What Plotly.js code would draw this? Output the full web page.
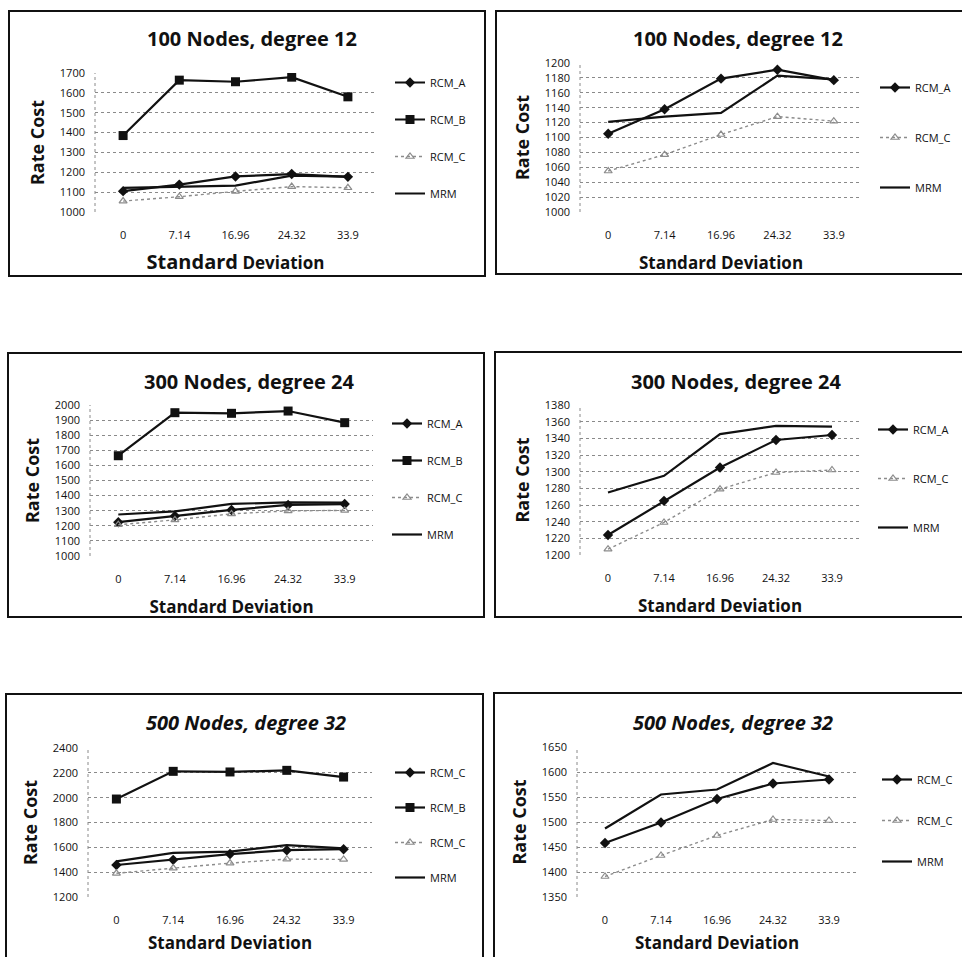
<!DOCTYPE html>
<html>
<head>
<meta charset="utf-8">
<script src="https://cdn.plot.ly/plotly-3.0.1.min.js"></script>
<style>
  html, body { margin:0; padding:0; background:#fff; width:962px; height:957px; overflow:hidden; }
  .plot { position:absolute; }
  .frame { position:absolute; border:2px solid #111; box-sizing:border-box; pointer-events:none; }
</style>
</head>
<body>
<div id="p1" class="plot"></div>
<div id="p2" class="plot"></div>
<div id="p3" class="plot"></div>
<div id="p4" class="plot"></div>
<div id="p5" class="plot"></div>
<div id="p6" class="plot"></div>
<script>
// ---------- data ----------
const categories = ['0', '7.14', '16.96', '24.32', '33.9'];

// 100 nodes, degree 12
const n100_RCM_A = [1105, 1138, 1179, 1191, 1177];
const n100_RCM_B = [1385, 1664, 1656, 1679, 1580];
const n100_RCM_C = [1055, 1077, 1104, 1128, 1122];
const n100_MRM   = [1121, 1128, 1133, 1183, 1178];

// 300 nodes, degree 24
const n300_RCM_A = [1224, 1265, 1305, 1338, 1344];
const n300_RCM_B = [1664, 1949, 1945, 1960, 1883];
const n300_RCM_C = [1207, 1239, 1279, 1299, 1302];
const n300_MRM   = [1275, 1295, 1345, 1355, 1354];

// 500 nodes, degree 32
const n500_RCM_A = [1458, 1499, 1546, 1577, 1585];
const n500_RCM_B = [1989, 2212, 2207, 2220, 2166];
const n500_RCM_C = [1391, 1433, 1473, 1505, 1503];
const n500_MRM   = [1487, 1555, 1565, 1618, 1591];

// ---------- styles ----------
const FONT = 'Open Sans, Lato, sans-serif';
const styleA = {mode:'lines+markers', line:{color:'#111', width:2.2}, marker:{symbol:'diamond', size:8, color:'#111'}};
const styleB = {mode:'lines+markers', line:{color:'#111', width:2.2}, marker:{symbol:'square', size:9, color:'#111'}};
const styleC = {mode:'lines+markers', line:{color:'#8c8c8c', width:1.4, dash:'dot'}, marker:{symbol:'triangle-up-open', size:7, color:'#8c8c8c', line:{width:1.2}}};
const styleM = {mode:'lines', line:{color:'#111', width:2.2}};

function tr(name, y, style, grp) {
  return Object.assign({type:'scatter', x:categories, y:y, name:name, legendgroup:grp}, JSON.parse(JSON.stringify(style)));
}

const panels = [
  {id:'p1', box:[8,10,478,267], m:[87,110,63,65], title:'<b>100 Nodes, degree 12</b>', tx:244, ty:29,
   xtitle:'<b><span style="font-size:20px">Standard</span> Deviation</b>', xs:16, range:[1000,1700], dtick:100,
   traces:[tr('RCM_A',n100_RCM_A,styleA,'a'), tr('RCM_B',n100_RCM_B,styleB,'b'), tr('RCM_C',n100_RCM_C,styleC,'c'), tr('MRM',n100_MRM,styleM,'m')],
   legX:430, legY:83, gap:37},
  {id:'p2', box:[495,10,470,265], m:[85,103,53,63], title:'<b>100 Nodes, degree 12</b>', tx:243, ty:29,
   xtitle:'<b>Standard Deviation</b>', xs:16, range:[1000,1200], dtick:20,
   traces:[tr('RCM_A',n100_RCM_A,styleA,'a'), tr('RCM_C',n100_RCM_C,styleC,'c'), tr('MRM',n100_MRM,styleM,'m')],
   legX:915, legY:88, gap:50},
  {id:'p3', box:[7,352,478,266], m:[83,112,53,62], title:'<b>300 Nodes, degree 24</b>', tx:242, ty:30,
   xtitle:'<b>Standard Deviation</b>', xs:16, range:[1000,2000], dtick:100,
   traces:[tr('RCM_A',n300_RCM_A,styleA,'a'), tr('RCM_B',n300_RCM_B,styleB,'b'), tr('RCM_C',n300_RCM_C,styleC,'c'), tr('MRM',n300_MRM,styleM,'m')],
   legX:427, legY:424, gap:37},
  {id:'p4', box:[494,351,472,267], m:[86,106,54,63], title:'<b>300 Nodes, degree 24</b>', tx:242, ty:31,
   xtitle:'<b>Standard Deviation</b>', xs:16, range:[1200,1380], dtick:20,
   traces:[tr('RCM_A',n300_RCM_A,styleA,'a'), tr('RCM_C',n300_RCM_C,styleC,'c'), tr('MRM',n300_MRM,styleM,'m')],
   legX:913, legY:430, gap:49},
  {id:'p5', box:[5,693,479,277], m:[83,112,55,73], title:'<b><i>500 Nodes, degree 32</i></b>', tx:241, ty:30,
   xtitle:'<b>Standard Deviation</b>', xs:11, range:[1200,2400], dtick:200,
   traces:[tr('RCM_C',n500_RCM_A,styleA,'a'), tr('RCM_B',n500_RCM_B,styleB,'b'), tr('RCM_C',n500_RCM_C,styleC,'c'), tr('MRM',n500_MRM,styleM,'m')],
   legX:430, legY:773, gap:35},
  {id:'p6', box:[493,692,475,278], m:[84,111,55,73], title:'<b><i>500 Nodes, degree 32</i></b>', tx:240, ty:31,
   xtitle:'<b>Standard Deviation</b>', xs:11, range:[1350,1650], dtick:50,
   traces:[tr('RCM_C',n500_RCM_A,styleA,'a'), tr('RCM_C',n500_RCM_C,styleC,'c'), tr('MRM',n500_MRM,styleM,'m')],
   legX:917, legY:780, gap:41}
];

panels.forEach(p => {
  const [bx, by, W, H] = p.box;
  const div = document.getElementById(p.id);
  div.style.left = bx + 'px'; div.style.top = by + 'px';
  div.style.width = W + 'px'; div.style.height = H + 'px';
  const frame = document.createElement('div');
  frame.className = 'frame';
  frame.style.left = bx + 'px'; frame.style.top = by + 'px';
  frame.style.width = W + 'px'; frame.style.height = H + 'px';
  document.body.appendChild(frame);

  const itemH = 19;
  const layout = {
    width: W, height: H,
    margin: {l:p.m[0], r:p.m[1], t:p.m[2], b:p.m[3], pad:0},
    paper_bgcolor:'#fff', plot_bgcolor:'#fff',
    font: {family: FONT, color:'#111', size:11},
    title: {text:p.title, font:{family:FONT, size:20, color:'#111'},
            xref:'container', yref:'container', x:p.tx / W, y:1 - p.ty / H, xanchor:'center', yanchor:'middle'},
    showlegend: true,
    legend: {xref:'container', yref:'container', x:(p.legX - 40 - bx) / W, y:1 - (p.legY - 15 - by) / H,
             xanchor:'left', yanchor:'top', font:{family:FONT, size:11, color:'#111'},
             tracegroupgap: p.gap - itemH, bgcolor:'rgba(0,0,0,0)', borderwidth:0, itemwidth:30},
    xaxis: {type:'category', range:[-0.5, 4.5], showgrid:false, zeroline:false, showline:false,
            ticks:'', tickfont:{family:FONT, size:11, color:'#111'}, ticklabelstandoff:15,
            title:{text:p.xtitle, font:{family:FONT, size:17, color:'#111'}, standoff:p.xs}, fixedrange:true},
    yaxis: {range:p.range, dtick:p.dtick, tick0:p.range[0], tickformat:'d', showgrid:true,
            gridcolor:'#8a8a8a', griddash:'dot', gridwidth:1, zeroline:false, showline:false, ticks:'',
            tickfont:{family:FONT, size:11, color:'#111'}, ticklabelstandoff:9,
            title:{text:'<b>Rate Cost</b>', font:{family:FONT, size:18, color:'#111'}, standoff:10}, fixedrange:true},
    shapes: [{type:'line', xref:'paper', yref:'paper', x0:0, x1:0, y0:0, y1:1,
              line:{color:'#8a8a8a', width:1, dash:'dot'}, layer:'below'}]
  };
  Plotly.newPlot(div, p.traces, layout, {displayModeBar:false, staticPlot:true});
});
</script>
</body>
</html>
